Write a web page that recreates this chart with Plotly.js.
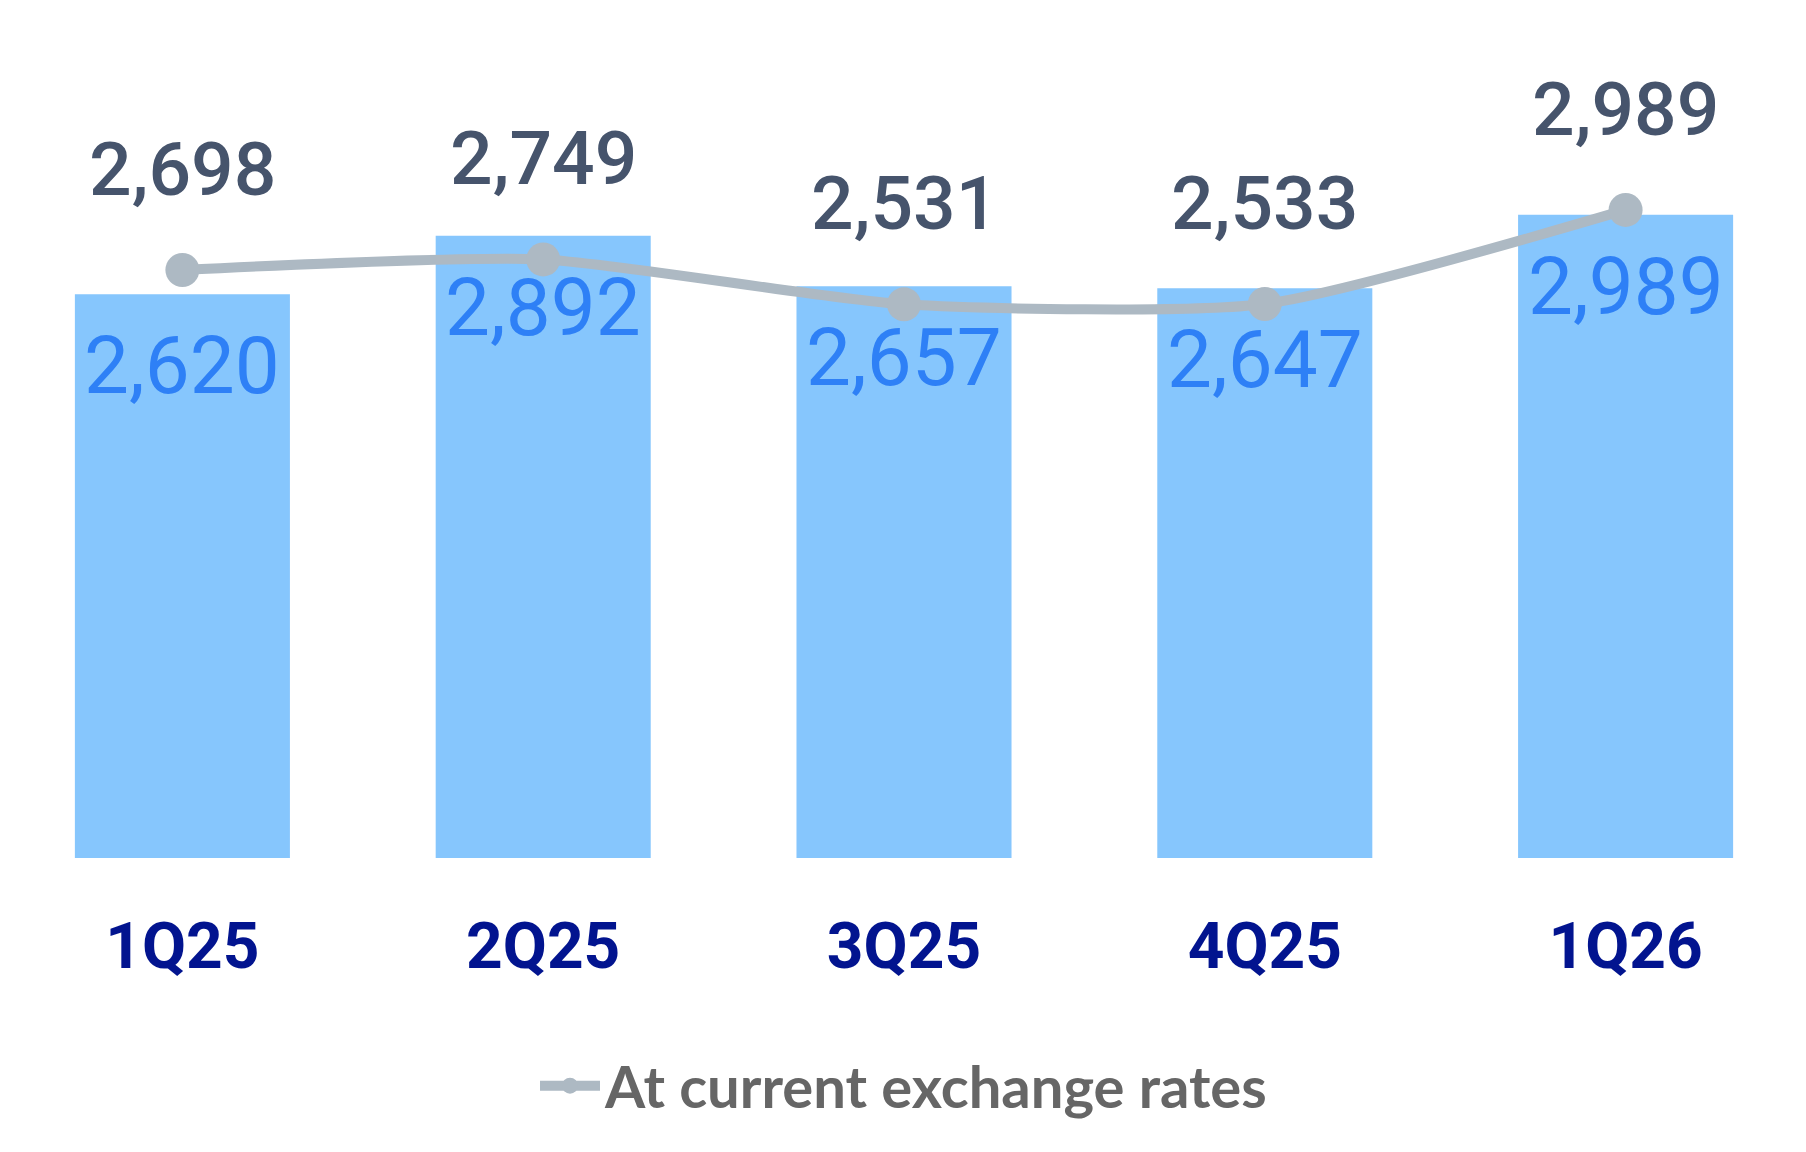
<!DOCTYPE html>
<html>
<head>
<meta charset="utf-8">
<script src="https://cdn.plot.ly/plotly-3.0.1.min.js"></script>
<style>html,body{margin:0;padding:0;background:#fff;} #chart{width:1806px;height:1152px;}</style>
</head>
<body>
<div id="chart"></div>
<script>
const categories = ["1Q25", "2Q25", "3Q25", "4Q25", "1Q26"];
const barValues = [2620, 2892, 2657, 2647, 2989];
const lineValues = [2698, 2749, 2531, 2533, 2989];
const barLabels = ["2,620", "2,892", "2,657", "2,647", "2,989"];
const lineLabels = ["2,698", "2,749", "2,531", "2,533", "2,989"];
const legendName = "At current exchange rates";

const barTrace = {
  type: "bar",
  x: categories,
  y: barValues,
  marker: {color: "#86C6FD"},
  showlegend: false,
  hoverinfo: "skip"
};
const lineTrace = {
  type: "scatter",
  mode: "lines+markers",
  x: categories,
  y: lineValues,
  yaxis: "y2",
  name: legendName,
  line: {color: "#ADB9C3", width: 10, shape: "spline", smoothing: 0.6},
  marker: {color: "#ADB9C3", size: 34},
  hoverinfo: "skip"
};

const annotations = [];
categories.forEach((c, i) => {
  annotations.push({
    x: c, y: barValues[i], xref: "x", yref: "y",
    text: barLabels[i], showarrow: false,
    yanchor: "middle", yshift: -72,
    font: {family: "Roboto", size: 80, color: "#2E80F6"}
  });
  annotations.push({
    x: c, y: lineValues[i], xref: "x", yref: "y2",
    text: lineLabels[i], showarrow: false,
    yanchor: "middle", yshift: 101,
    font: {family: "Roboto", size: 75, weight: 500, color: "#46546C"}
  });
});

const layout = {
  width: 1806,
  height: 1152,
  margin: {l: 2, r: 0, t: 20, b: 294},
  paper_bgcolor: "#ffffff",
  plot_bgcolor: "#ffffff",
  bargap: 0.404,
  showlegend: true,
  hovermode: false,
  xaxis: {
    type: "category",
    showgrid: false, zeroline: false, showline: false, ticks: "",
    tickfont: {family: "Roboto", size: 64, weight: 700, color: "#02148F"},
    ticklabelstandoff: 45
  },
  yaxis: {
    range: [0, 3894],
    visible: false, showgrid: false, zeroline: false
  },
  yaxis2: {
    range: [-154, 3910],
    overlaying: "y", side: "right",
    visible: false, showgrid: false, zeroline: false
  },
  legend: {
    orientation: "h",
    x: 0.5, xanchor: "center",
    y: -0.272, yanchor: "middle",
    font: {family: "Lato", size: 58, weight: 700, color: "#666666"},
    itemwidth: 60
  },
  annotations: annotations
};

Plotly.newPlot("chart", [barTrace, lineTrace], layout, {displayModeBar: false, staticPlot: true});
</script>
</body>
</html>
